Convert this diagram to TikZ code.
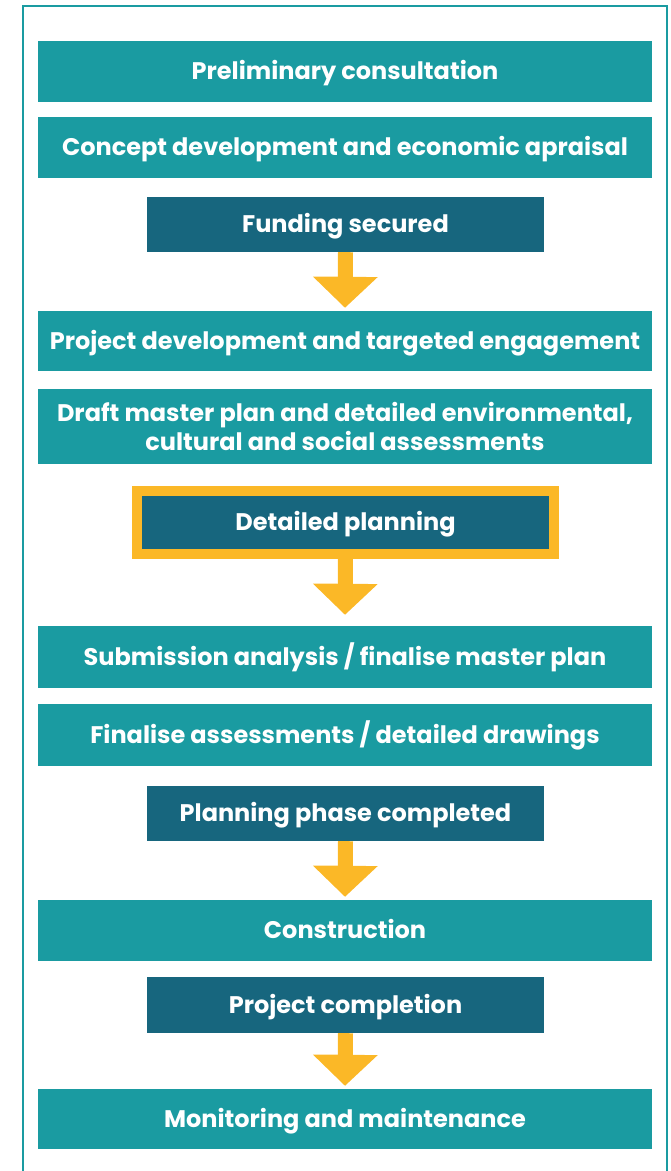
\documentclass[tikz,border=0pt]{standalone}
\usepackage{fontspec}
\setmainfont{Poppins}
\usetikzlibrary{arrows.meta,calc}
\definecolor{tealbox}{HTML}{1A9BA1}
\definecolor{darkbox}{HTML}{17667E}
\definecolor{gold}{HTML}{FBB827}
\begin{document}
\begin{tikzpicture}[x=1pt,y=1pt,
  base/.style={text=white,font=\fontsize{24}{29}\selectfont\bfseries,align=center,inner sep=0pt,anchor=center},
  oneline/.style={text height=18pt,text depth=2pt},
  light/.style={base,fill=tealbox,minimum width=614pt},
  darkb/.style={base,oneline,fill=darkbox,minimum width=397pt},
  hl/.style={base,oneline,fill=darkbox,draw=gold,line width=10pt,minimum width=417pt,minimum height=63pt},
  flow/.style={draw=gold,line width=15pt,-{Triangle[width=63pt,length=31pt]}}
]
\useasboundingbox (0,0) rectangle (671,-1171);
\draw[tealbox,line width=2.2pt] (23,-1180) -- (23,-6) -- (667,-6) -- (667,-1180);

\node[light,oneline,minimum height=61pt] (n1) at (345,-71.5) {Preliminary consultation};
\node[light,oneline,minimum height=61pt] (n2) at (345,-147.5) {Concept development and economic apraisal};
\node[darkb,minimum height=55pt] (n3) at (345.5,-224.5) {Funding secured};
\node[light,oneline,minimum height=60pt] (n4) at (345,-341) {Project development and targeted engagement};
\node[light,minimum height=75pt] (n5) at (345,-426.5) {Draft master plan and detailed environmental,\\cultural and social assessments};
\node[hl] (n6) at (345.5,-522.5) {Detailed planning};
\node[light,oneline,minimum height=62pt] (n7) at (345,-657) {Submission analysis / finalise master plan};
\node[light,oneline,minimum height=62pt] (n8) at (345,-735) {Finalise assessments / detailed drawings};
\node[darkb,minimum height=55pt] (n9) at (345.5,-813.5) {Planning phase completed};
\node[light,oneline,minimum height=61pt] (n10) at (345,-930.5) {Construction};
\node[darkb,minimum height=56pt] (n11) at (345.5,-1005) {Project completion};
\node[light,oneline,minimum height=60pt] (n12) at (345,-1119) {Monitoring and maintenance};

\draw[flow] (n3.south) -- ($(n4.north)+(0,3)$);
\draw[flow] ([yshift=5pt]n6.south) -- ($(n7.north)+(0,11)$);
\draw[flow] (n9.south) -- ($(n10.north)+(0,3)$);
\draw[flow] (n11.south) -- ($(n12.north)+(0,3)$);
\end{tikzpicture}
\end{document}
